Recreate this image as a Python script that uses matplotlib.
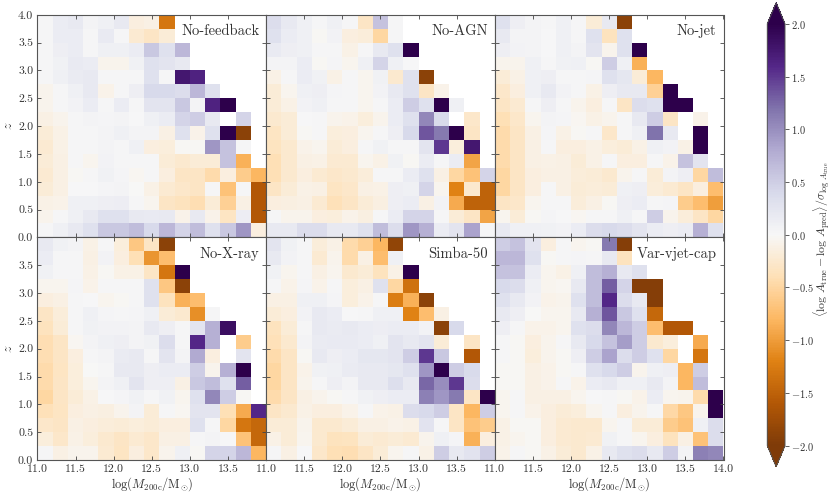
import numpy as np
import matplotlib
matplotlib.use('Agg')
import matplotlib.pyplot as plt

plt.rcParams['font.family'] = ['cmr10', 'DejaVu Sans']
plt.rcParams['mathtext.fontset'] = 'cm'
plt.rcParams['axes.formatter.use_mathtext'] = True
plt.rcParams['axes.unicode_minus'] = False

n = np.nan

# mean offset per bin, rows go from the top (z=4) down to z=0, short rows are empty on the right
no_feedback = [
    [.03,.15,.2,.05,.1,.2,-.15,-.12,-1.3],
    [.03,.15,.15,.03,.18,.03,-.22,-.3,-.2],
    [.03,.12,.15,.03,.1,.1,.15,.55,.3,.7],
    [.02,.08,.18,.15,-.07,-.07,.08,.3,.25,.2],
    [.02,.1,.17,.2,.03,.02,.03,.3,.02,1.75,1.65],
    [-.07,.03,.1,.2,-.08,.02,.12,.4,.4,.35,.7,.3],
    [-.07,.02,.07,.15,.02,.15,.03,.25,.25,.55,.05,1.65,2.1],
    [-.12,-.07,.02,.05,.04,.05,0,.1,.15,.45,.5,.2,n,.45],
    [-.2,-.1,.02,.02,.05,.1,.06,.05,-.12,.3,-.08,.3,2.1,-1.9],
    [-.22,-.1,.02,.02,.06,.03,.1,-.15,-.17,-.03,-.03,.95,.6,.03],
    [-.2,-.12,.03,-.05,.07,.03,.02,.02,-.2,-.25,-.2,-.2,.6,-.85],
    [-.22,-.12,-.03,.02,.08,.04,-.04,.03,-.15,-.3,-.3,-.45,-.15,-.6,-.8],
    [-.2,-.12,0,0,.04,.05,-.01,-.1,-.22,-.28,-.3,.02,-.7,.02,-1.6],
    [-.1,-.08,.1,.1,.12,.13,.02,-.05,-.3,-.35,-.42,-.2,-.55,-.12,-1.6],
    [-.07,.03,.1,.2,.3,.3,.2,.18,.2,-.08,.2,-.08,-.32,.13,-1.6],
    [.02,.1,.2,.3,.55,.55,.65,.4,.7,.45,.65,.3,.55,.95,-.15],
]
no_agn = [
    [.35,.2,.1,.03,.1,.03,-.3,.6,.02],
    [.3,.15,.1,-.03,.07,-.15,-.18,-.5,.02],
    [.18,.12,.1,.02,.02,-.1,.02,.2,.3,2.1],
    [.05,.05,.15,-.03,.04,-.06,.1,.45,.1,.01],
    [-.1,.03,.15,.08,-.1,.02,-.05,.08,-.25,.3,-1.9],
    [-.2,-.05,.1,.12,.04,.02,-.06,.07,.2,.3,-.3,-.08],
    [-.2,-.1,.07,.1,.03,.02,-.06,.03,.15,.5,.3,2.1,.1],
    [-.25,-.2,0,.02,-.07,-.08,-.17,-.07,.15,.3,1.05,.38,n,-.28],
    [-.32,-.2,-.03,.03,-.17,-.15,-.06,.02,.12,.4,1.35,1.15,2.1,-.3],
    [-.33,-.25,-.08,-.06,-.2,-.15,.02,.08,.03,.02,.25,1.5,-.17,1.75],
    [-.4,-.25,-.12,-.1,-.22,-.22,-.05,-.1,.08,-.03,.15,.03,.15,-.95],
    [-.4,-.25,-.15,-.22,-.27,-.25,-.18,.03,.03,.15,.3,-.12,-.5,-.7,.45],
    [-.3,-.2,-.1,-.12,-.32,-.28,-.12,-.1,.12,.1,.45,-.05,-1.2,-.25,-1.5],
    [-.15,-.13,-.12,-.22,-.38,-.3,-.2,-.13,.12,.15,-.12,.07,-.9,-1.5,-1.5],
    [.02,-.07,-.07,-.15,-.17,-.08,-.13,.02,.15,.45,.45,.02,-.2,-.3,-.95],
    [.2,.2,.35,.35,.2,.2,.3,.65,.35,.95,.75,.15,.25,.85,.02],
]
no_jet = [
    [.3,.12,.05,.02,.1,.03,-.2,.2,-1.9],
    [.2,.05,.05,.01,.1,.02,.3,-.35,.3],
    [.12,.07,.06,.01,.1,.05,.25,-.07,.3,2.1],
    [-.07,-.07,.1,.02,.08,.1,-.02,.5,.1,-.85],
    [-.2,-.1,.1,.12,.03,.03,.04,.3,.22,-.2,-.8],
    [-.28,-.15,.1,.2,.07,.03,-.1,.12,.2,.2,-.55,2.1],
    [-.3,-.22,.02,.12,.03,-.07,-.15,.02,-.3,.35,.3,2.1,2.1],
    [-.4,-.27,-.05,.05,.04,-.04,-.1,-.07,.02,.2,.5,-.3,n,-.08],
    [-.45,-.3,-.12,.04,-.1,-.03,.03,-.28,.02,.1,1.2,.2,n,2.1],
    [-.45,-.3,-.12,.02,-.15,-.15,-.1,-.17,-.2,-.1,.1,.07,-.1,2.1],
    [-.45,-.3,-.12,-.1,-.12,-.2,-.1,.02,-.15,-.15,.03,-.08,.6,.25],
    [-.5,-.3,-.15,-.12,-.12,-.18,-.2,-.25,-.07,.02,-.2,.06,.12,-.5,.65],
    [-.5,-.3,-.15,.02,-.12,-.2,-.18,-.2,.1,.12,-.18,-.22,-.3,-.15,-.75],
    [-.3,-.27,-.06,.03,.03,-.18,-.12,-.02,.12,.15,.03,.04,-.6,-.75,-1.0],
    [-.05,-.2,-.03,.04,.01,-.04,.02,.02,.1,.03,.5,-.07,-.18,-.3,-.5],
    [.2,.1,.1,.08,.07,.15,.35,.4,.35,.25,.15,.12,.15,.75,.3],
]
no_xray = [
    [.2,.08,.06,-.1,.02,-.17,-.65,-.3,-1.9],
    [.15,.03,.02,-.12,.07,-.15,-.4,-1.05,-.75],
    [.08,.03,.02,-.1,-.03,-.1,-.1,-.3,-1.3,2.1],
    [-.06,-.06,.04,-.08,.03,.03,.03,.3,-.65,-1.9],
    [-.15,-.12,.02,.01,-.06,-.03,.02,.3,-.35,-.85,-.75],
    [-.3,-.18,.03,.1,.04,.03,.04,.1,-.2,-.25,-1.1,.03],
    [-.35,-.2,.03,.08,.07,.07,.06,.2,.12,.03,.25,.75,1.85],
    [-.42,-.3,-.04,.06,.1,.12,.05,.08,.35,.03,1.6,.75,n,-.6],
    [-.42,-.3,-.15,.02,.05,.17,.2,.03,.25,.05,.8,-.15,n,.25],
    [-.45,-.32,-.17,-.01,.03,.2,.2,.12,.15,.15,.5,-.07,.75,2.1],
    [-.45,-.3,-.17,-.05,.05,.1,.25,.12,.12,-.12,.55,.65,.3,1.3],
    [-.5,-.3,-.2,-.1,.01,.04,.08,.03,.08,-.05,.3,1.05,.5,-.03],
    [-.38,-.32,-.15,-.12,-.13,-.07,.05,-.2,.02,-.04,.25,.25,-.4,-.9,1.6],
    [-.28,-.3,-.12,-.15,-.18,-.2,-.17,-.2,-.15,-.15,.3,.02,-.5,-1.3,-1.45],
    [-.17,-.28,-.1,-.17,-.25,-.3,-.22,-.27,-.12,-.12,.02,.05,.01,-.7,-1.45],
    [.02,-.12,-.07,-.07,-.22,-.32,-.15,-.27,-.07,.1,-.03,.45,.45,.7,-.8],
]
simba_50 = [
    [.25,.08,.03,-.18,-.1,-.45,-.55,-.8,-1.85],
    [.2,.07,.03,-.22,-.07,-.45,-.12,-.75,.1],
    [.08,-.05,.03,-.12,-.06,-.25,-.2,-.35,-.1,2.1],
    [.03,-.08,.04,-.08,.02,-.17,-.12,.3,-.5,-1.35],
    [-.12,-.12,.1,.1,.04,-.17,-.08,.02,-1.25,-.85,-1.9],
    [-.2,-.15,.07,.2,.15,.01,.02,.1,.1,-1.2,-.75,-.12],
    [-.35,-.2,.03,.2,.17,.2,.15,.13,.15,.15,.07,-1.9,.4],
    [-.38,-.25,.06,.17,.18,.18,.15,.1,.25,.2,.25,-.2,n,-.3],
    [-.45,-.3,-.02,.2,.12,.15,.22,.22,.25,.5,1.5,.55,n,-1.6],
    [-.5,-.3,-.08,.08,.1,.16,.2,.2,.22,.3,.95,2.1,.5,.38],
    [-.5,-.3,-.07,.03,.12,.05,.2,.2,.33,.2,1.25,1.0,1.5,.35],
    [-.45,-.3,-.12,-.07,-.03,.02,.08,.12,.15,.15,1.1,.95,1.15,-.3,2.1],
    [-.3,-.25,-.1,-.15,-.15,-.08,.02,-.08,-.1,.35,.4,.5,-.3,-.8,.5],
    [-.2,-.2,-.07,-.25,-.25,-.2,-.12,-.12,-.08,-.1,.28,.03,-.3,-.7,-.6],
    [-.1,-.2,-.06,-.25,-.35,-.33,-.2,-.22,-.2,-.22,-.07,.1,.04,-.85,-.15],
    [.03,-.12,.01,-.28,-.4,-.42,-.3,-.2,-.05,.02,-.1,.5,.2,.28,.5],
]
var_vjet_cap = [
    [.5,.6,.25,-.15,.02,-.05,-.03,1.15,-1.95],
    [.7,.7,.3,-.03,.03,.04,.02,.2,-.35],
    [.6,.6,.15,-.06,-.1,.1,.65,.75,.2,.3],
    [.4,.35,.1,-.05,-.04,.2,.65,1.3,.45,-1.95,-1.95],
    [.3,.2,.07,-.08,-.07,.3,.65,1.6,.35,.2,-1.95],
    [.2,.12,-.01,-.05,-.05,.2,.75,1.35,.55,.3,-1.45],
    [.12,.02,-.08,-.08,-.05,.3,.35,1.05,.7,.5,-.75,-1.6,-1.6],
    [.02,-.03,-.15,-.07,.02,.2,.4,.6,.9,.5,-.25,-.17,n,-.9],
    [.02,-.03,-.17,-.07,-.02,.12,.5,.85,.35,.5,.3,-.5,n,-1.3],
    [-.03,-.03,-.12,-.08,-.02,.03,.3,.4,.5,-.07,.1,.12,-.8,.5],
    [-.03,-.03,-.12,-.08,.03,-.08,.15,.2,.1,.1,.2,.05,-.8,.65],
    [-.05,.03,-.12,-.12,-.12,-.06,.01,.02,-.03,-.08,.15,-.05,-.07,-.45,2.1],
    [-.05,.03,-.08,-.15,-.2,-.17,-.05,.02,-.15,-.07,.02,-.48,-.65,-.07,2.1],
    [-.1,-.02,-.03,-.15,-.22,-.25,-.25,-.05,.03,-.2,-.2,-.6,-.7,.1,.35],
    [-.1,-.05,-.03,-.15,-.22,-.25,-.22,.08,.03,-.05,-.15,-.35,-.12,-.7,.35],
    [-.08,.02,-.03,-.1,-.2,-.25,-.1,.2,.3,.35,.2,.5,.06,1.1,1.05],
]

names = ['No-feedback', 'No-AGN', 'No-jet', 'No-X-ray', 'Simba-50', 'Var-vjet-cap']
panels = [no_feedback, no_agn, no_jet, no_xray, simba_50, var_vjet_cap]

mass_edges = np.linspace(11, 14, 16)
z_edges = np.linspace(0, 4, 17)
mass_ticks = [11, 11.5, 12, 12.5, 13, 13.5, 14]
z_ticks = [0, 0.5, 1, 1.5, 2, 2.5, 3, 3.5, 4]
cbar_ticks = [-2, -1.5, -1, -0.5, 0, 0.5, 1, 1.5, 2]

W, H = 831, 496
fs = 8.5
text_col = '#333333'

def to_grid(rows):
    grid = np.full((16, 15), np.nan)
    for i, row in enumerate(rows):
        grid[15 - i, :len(row)] = row
    return grid

fig = plt.figure(figsize=(W / 100, H / 100), dpi=100)

left = 37.4
top = 14.8
pw = 228.7
ph = 222.6

for i in range(6):
    col = i % 3
    row = i // 3
    ax = fig.add_axes([(left + col * pw) / W, (H - top - (row + 1) * ph) / H, pw / W, ph / H])
    mesh = ax.pcolormesh(mass_edges, z_edges, to_grid(panels[i]), cmap='PuOr', vmin=-2, vmax=2)
    ax.set_xlim(11, 14)
    ax.set_ylim(0, 4)
    ax.tick_params(direction='in', top=True, right=True, length=3, width=0.6,
                   labelsize=fs, labelcolor=text_col, color='#444444', pad=3)
    for s in ax.spines.values():
        s.set_linewidth(0.8)
        s.set_color('#555555')

    ax.set_xticks(mass_ticks)
    if row == 1:
        labels = ['%.1f' % t for t in mass_ticks]
        if col < 2:
            labels[-1] = ''
        ax.set_xticklabels(labels)
        ax.set_xlabel(r'$\log(M_{200\mathrm{c}}/\mathrm{M}_{\odot})$', fontsize=fs + 0.5,
                      color=text_col, labelpad=1)
    else:
        ax.set_xticklabels([])

    ax.set_yticks(z_ticks)
    if col == 0:
        labels = ['%.1f' % t for t in z_ticks]
        if row == 1:
            labels[-1] = ''
        ax.set_yticklabels(labels)
        ax.set_ylabel(r'$z$', fontsize=fs + 1.5, color=text_col, labelpad=2)
    else:
        ax.set_yticklabels([])

    ax.text(0.97, 0.925, names[i], transform=ax.transAxes, ha='right', va='center',
            fontsize=fs + 2, color=text_col)

# the axes holds the triangles too, they take 5% of the colour range at each end
cax = fig.add_axes([767.3 / W, (H - 466.7) / H, 17.7 / W, 464 / H])
cb = fig.colorbar(mesh, cax=cax, extend='both', extendfrac=0.05)
cb.set_ticks(cbar_ticks)
cb.set_ticklabels(['$%.1f$' % t for t in cbar_ticks])
cb.ax.tick_params(labelsize=fs - 1, labelcolor=text_col, length=3, width=0.6, color='#444444', pad=1.5)
cb.outline.set_linewidth(0.7)
cb.outline.set_edgecolor('#555555')
cb.set_label(r'$\langle\log\,A_{\mathrm{true}}-\log\,A_{\mathrm{pred}}\rangle/\sigma_{\log\,A_{\mathrm{true}}}$',
             fontsize=fs, color=text_col)
cb.ax.yaxis.set_label_coords(2.55, 0.49)

plt.savefig('out.png', dpi=100)
